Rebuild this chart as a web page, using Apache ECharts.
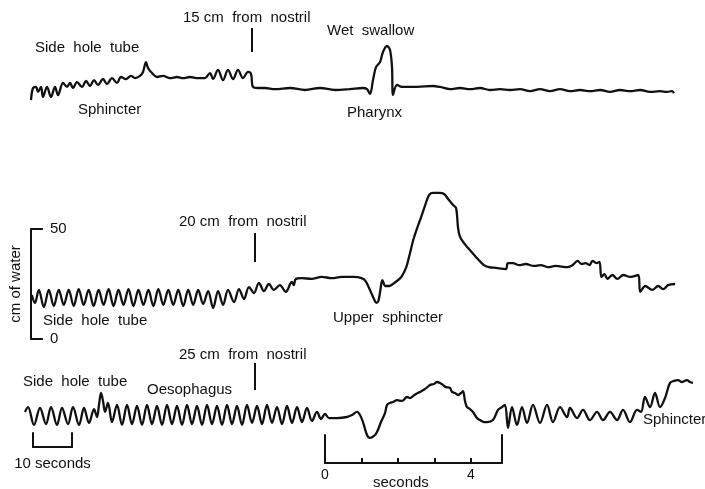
<!DOCTYPE html>
<html>
<head>
<meta charset="utf-8">
<script src="https://cdn.jsdelivr.net/npm/echarts@6.0.0/dist/echarts.min.js"></script>
<style>
html,body{margin:0;padding:0;background:#fff;}
#chart{width:705px;height:489px;}
</style>
</head>
<body>
<div id="chart"></div>
<script>
// Chart position along the paper (same unit for all three records) and pressure in cm of water
const trace15cm = [
[31,4.5],[33,10.0],[36,10.5],[38,8.2],[41,10.5],[43,5.9],[47,10.5],[51,5.9],[55,10.5],[58,6.8],
[63,12.3],[67,10.5],[70,12.3],[73,10.0],[77,12.7],[82,10.5],[86,13.2],[90,10.9],[94,13.6],[98,11.4],
[103,14.1],[107,11.8],[112,14.5],[117,12.3],[121,15.0],[126,14.1],[131,15.5],[135,14.5],[140,15.5],[143,17.3],
[146,21.8],[148,19.1],[152,16.8],[157,15.0],[163,15.5],[170,14.5],[177,15.0],[183,14.5],[190,15.0],[198,14.5],
[205,14.5],[210,16.8],[213,14.1],[218,18.2],[223,13.6],[228,18.2],[233,14.1],[238,18.2],[243,14.5],[248,17.3],
[251,16.4],[253,10.5],[258,10.0],[265,10.0],[275,9.5],[290,10.0],[305,9.1],[320,10.0],[335,9.1],[350,9.5],
[363,10.0],[367,9.5],[370,7.3],[373,13.6],[376,19.5],[380,21.8],[383,26.4],[387,29.1],[390,27.3],[392,19.5],
[393,6.8],[397,11.4],[402,10.5],[417,10.5],[433,10.9],[440,10.5],[450,9.5],[460,10.0],[470,9.5],[480,10.0],
[490,9.1],[500,9.5],[510,9.1],[520,9.5],[530,8.6],[540,9.5],[550,8.6],[560,9.5],[570,8.6],[580,9.1],
[590,8.6],[600,9.1],[610,8.2],[620,9.1],[630,8.6],[640,9.1],[650,8.2],[660,8.6],[667,8.2],[672,8.6],[674,7.7]
];

const trace20cm = [
[29,20.0],[32,16.4],[36,22.3],[41,14.5],[46,22.3],[51,15.0],[56,22.3],[61,15.5],[66,22.3],[71,15.0],
[76,22.7],[81,15.5],[86,22.3],[91,15.0],[96,22.3],[101,15.5],[106,22.7],[111,15.0],[116,22.3],[121,15.5],
[126,22.7],[131,15.0],[136,22.3],[141,15.5],[146,22.3],[151,15.0],[156,22.7],[161,15.5],[166,22.3],[171,15.5],
[176,22.3],[181,15.0],[186,22.3],[191,15.5],[196,22.3],[201,15.9],[206,21.8],[211,14.1],[216,21.8],[221,15.5],
[226,22.3],[232,16.8],[237,22.7],[242,18.2],[247,23.6],[252,20.9],[257,25.5],[262,21.8],[267,25.0],[272,22.3],
[278,24.5],[284,21.4],[290,25.9],[292,24.5],[294,27.3],[300,27.7],[310,27.3],[320,28.2],[330,27.7],[340,28.2],
[352,28.2],[360,27.7],[364,26.4],[369,21.8],[373,17.7],[375,16.4],[377,17.3],[379,22.3],[381,26.8],[384,24.1],
[388,24.1],[393,25.5],[400,28.2],[405,32.7],[408,37.7],[412,45.0],[416,50.5],[420,55.5],[424,60.9],[428,65.5],
[432,66.4],[438,66.4],[443,65.9],[447,63.6],[452,60.9],[455,59.5],[457,50.5],[459,46.4],[463,43.6],[467,41.4],
[475,37.3],[483,33.6],[488,32.7],[495,32.3],[505,31.8],[507,34.5],[512,34.5],[518,33.6],[525,34.1],[533,33.2],
[540,33.6],[547,32.7],[555,33.2],[567,32.7],[572,33.6],[577,35.5],[581,34.1],[585,34.5],[589,33.6],[592,35.5],
[596,34.5],[599,35.0],[601,28.2],[604,29.5],[607,27.3],[612,29.1],[617,27.3],[623,29.1],[630,28.2],[638,29.1],
[640,21.4],[645,24.1],[652,22.3],[658,24.1],[663,22.7],[668,24.5],[675,25.0]
];

const trace25cm = [
[25,17.3],[28,19.5],[34,11.4],[40,19.1],[46,11.8],[51,19.5],[57,11.4],[62,19.1],[68,11.8],[73,19.5],
[79,11.4],[84,19.1],[89,12.3],[94,18.6],[97,15.0],[99,20.5],[101,25.9],[103,22.3],[105,17.3],[108,21.4],
[112,12.7],[117,20.5],[122,11.4],[127,20.5],[132,11.8],[137,20.0],[142,11.4],[147,20.5],[152,11.8],[157,20.0],
[162,11.4],[167,20.5],[172,11.8],[177,20.0],[182,11.4],[187,20.5],[192,11.8],[197,20.0],[202,11.4],[207,20.5],
[212,11.8],[217,20.0],[222,11.4],[227,20.5],[232,11.8],[237,20.0],[242,11.4],[247,20.5],[252,12.3],[257,20.0],
[262,11.8],[267,20.5],[272,12.3],[277,19.5],[282,11.8],[287,20.0],[292,12.3],[297,19.5],[302,12.7],[307,19.1],
[312,13.2],[317,17.3],[321,14.1],[325,16.4],[329,14.5],[337,14.5],[347,15.0],[352,15.9],[357,17.3],[360,15.9],
[363,12.7],[367,6.8],[370,5.5],[374,6.4],[377,8.2],[381,12.7],[385,16.8],[387,20.5],[390,21.4],[393,21.8],
[397,22.7],[402,22.3],[407,24.1],[410,23.6],[413,24.5],[416,25.5],[420,26.4],[425,27.7],[430,29.5],[434,30.0],
[437,30.9],[440,30.5],[443,29.5],[446,28.6],[450,28.2],[452,26.4],[455,25.9],[458,25.0],[461,25.9],[463,26.8],
[465,22.3],[467,19.5],[470,18.6],[473,17.3],[477,14.5],[480,13.6],[484,12.7],[487,12.7],[493,13.6],[498,18.2],
[502,19.5],[505,20.5],[508,10.0],[512,19.5],[517,11.4],[522,19.5],[527,12.3],[533,20.5],[540,12.3],[547,20.5],
[553,12.7],[560,19.5],[567,15.0],[570,19.1],[577,14.5],[583,18.2],[590,13.6],[597,17.3],[603,13.6],[610,17.3],
[617,13.6],[623,18.2],[630,12.7],[637,18.2],[641,17.3],[645,24.1],[650,19.5],[655,25.9],[660,19.5],[665,23.6],
[670,30.5],[674,31.4],[678,31.8],[682,30.9],[687,31.8],[690,30.9],[693,30.5]
];

// Position markers ("... cm from nostril" arrows): [chart position, from cm, to cm]
const arrow15 = [252, 37.3, 26.4];
const arrow20 = [253, 48.2, 35.0];
const arrow25 = [255, 39.5, 27.3];

// Scales
const pressureTicks = [0, 50];
const timeBarSeconds = 10;
const expandedSecondsMax = 4.85;
const expandedTickLabels = [0, 4];

const INK = '#111';
const FONT = 'Liberation Sans, Arial, Helvetica, sans-serif';

const chart = echarts.init(document.getElementById('chart'), null, {renderer: 'canvas'});

function arrowLine(a) {
  return {
    silent: true, symbol: ['none', 'none'], label: {show: false},
    lineStyle: {color: INK, width: 2, type: 'solid'},
    data: [[{coord: [a[0], a[1]]}, {coord: [a[0], a[2]]}]]
  };
}

function traceSeries(data, idx, arrow) {
  return {
    type: 'line', xAxisIndex: idx, yAxisIndex: idx, data: data,
    showSymbol: false, smooth: 0.35, clip: false,
    lineStyle: {color: INK, width: 2.3},
    animation: false, silent: true,
    markLine: arrowLine(arrow)
  };
}

const frameLine = {show: true, onZero: false, lineStyle: {color: INK, width: 2}};

const labels = [
  ['Side  hole  tube', 35, 48],
  ['Sphincter', 78, 110],
  ['15 cm  from  nostril', 183, 18],
  ['Wet  swallow', 327, 31],
  ['Pharynx', 347, 113],
  ['20 cm  from  nostril', 179, 222],
  ['Side  hole  tube', 43, 321],
  ['Upper  sphincter', 333, 318],
  ['25 cm  from  nostril', 179, 355],
  ['Side  hole  tube', 23, 382],
  ['Oesophagus', 147, 390],
  ['Sphincter', 643, 420],
  ['seconds', 373, 483]
];

const option = {
  backgroundColor: '#fff',
  animation: false,
  grid: [
    {left: 0, right: 0, top: 0, height: 110},
    {left: 28, right: 0, top: 229, height: 110},
    {left: 0, right: 0, top: 340, height: 110},
    {left: 33, width: 39, top: 433, height: 14},
    {left: 325, width: 177, top: 435, height: 28}
  ],
  xAxis: [
    {gridIndex: 0, type: 'value', min: 0, max: 705, show: false},
    {gridIndex: 1, type: 'value', min: 28, max: 705, show: false},
    {gridIndex: 2, type: 'value', min: 0, max: 705, show: false},
    {gridIndex: 3, type: 'value', min: 0, max: timeBarSeconds,
      axisLine: frameLine, axisTick: {show: false}, axisLabel: {show: false}, splitLine: {show: false},
      name: timeBarSeconds + ' seconds', nameLocation: 'middle', nameGap: 9,
      nameTextStyle: {color: INK, fontSize: 15, fontFamily: FONT}},
    {gridIndex: 4, type: 'value', min: 0, max: expandedSecondsMax, interval: 1,
      axisLine: frameLine,
      axisTick: {show: true, inside: true, length: 5, lineStyle: {color: INK, width: 2}},
      axisLabel: {color: INK, fontSize: 14, fontFamily: FONT, margin: 5,
        formatter: v => expandedTickLabels.indexOf(v) >= 0 ? String(v) : ''},
      splitLine: {show: false}}
  ],
  yAxis: [
    {gridIndex: 0, type: 'value', min: 0, max: 50, show: false},
    {gridIndex: 1, type: 'value', min: pressureTicks[0], max: pressureTicks[1], interval: 50,
      axisLine: frameLine,
      axisTick: {show: true, inside: true, length: 12, lineStyle: {color: INK, width: 2}},
      axisLabel: {inside: true, margin: 19, color: INK, fontSize: 15, fontFamily: FONT},
      splitLine: {show: false},
      name: 'cm of water', nameLocation: 'middle', nameRotate: 90, nameGap: 6,
      nameTextStyle: {color: INK, fontSize: 15, fontFamily: FONT}},
    {gridIndex: 2, type: 'value', min: 0, max: 50, show: false},
    {gridIndex: 3, type: 'value', min: 0, max: 1, position: 'left', axisLine: frameLine,
      axisTick: {show: false}, axisLabel: {show: false}, splitLine: {show: false}},
    {gridIndex: 3, type: 'value', min: 0, max: 1, position: 'right', axisLine: frameLine,
      axisTick: {show: false}, axisLabel: {show: false}, splitLine: {show: false}},
    {gridIndex: 4, type: 'value', min: 0, max: 1, position: 'left', axisLine: frameLine,
      axisTick: {show: false}, axisLabel: {show: false}, splitLine: {show: false}},
    {gridIndex: 4, type: 'value', min: 0, max: 1, position: 'right', axisLine: frameLine,
      axisTick: {show: false}, axisLabel: {show: false}, splitLine: {show: false}}
  ],
  series: [
    traceSeries(trace15cm, 0, arrow15),
    traceSeries(trace20cm, 1, arrow20),
    traceSeries(trace25cm, 2, arrow25)
  ],
  graphic: labels.map(l => ({
    type: 'text', x: l[1], y: l[2], silent: true,
    style: {text: l[0], fill: INK, font: '15px ' + FONT, verticalAlign: 'middle', textVerticalAlign: 'middle'}
  }))
};

chart.setOption(option);
</script>
</body>
</html>
